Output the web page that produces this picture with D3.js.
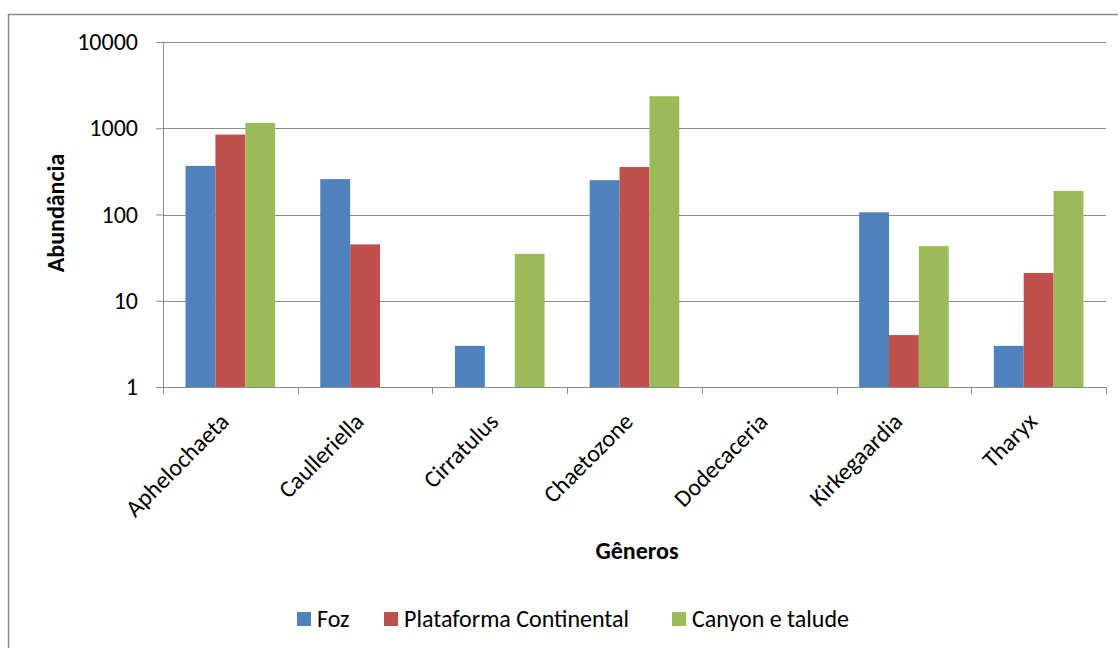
<!DOCTYPE html>
<html>
<head>
<meta charset="utf-8">
<script src="https://cdn.jsdelivr.net/npm/d3@7"></script>
<style>
  body { margin: 0; background: #fff; }
  svg text { font-family: Carlito, Calibri, Lato, sans-serif; fill: #000; }
</style>
</head>
<body>
<svg width="1118" height="648"></svg>
<script>
const svg = d3.select('svg');

// dados
const generos = ['Aphelochaeta', 'Caulleriella', 'Cirratulus', 'Chaetozone', 'Dodecaceria', 'Kirkegaardia', 'Tharyx'];
const series = ['Foz', 'Plataforma Continental', 'Canyon e talude'];
const foz = [366, 257, 3, 250, null, 106, 3];
const plataforma = [845, 45, null, 355, null, 4, 21];
const canyon = [1155, null, 35, 2350, null, 43, 188];
const yTicks = [1, 10, 100, 1000, 10000];
const colors = ['#4f81bd', '#c0504d', '#9bbb59'];

const values = [foz, plataforma, canyon];

const margin = {top: 42, left: 163, right: 12, bottom: 261};
const innerWidth = 1106 - margin.left;
const innerHeight = 387 - margin.top;

// borda externa
svg.append('rect')
    .attr('x', 8.5).attr('y', 14.5)
    .attr('width', 1200).attr('height', 700)
    .attr('fill', 'none')
    .attr('stroke', '#8c8c8c')
    .attr('stroke-width', 1.5);

const g = svg.append('g')
    .attr('transform', `translate(${margin.left}, ${margin.top})`);

const xScale = d3.scaleBand()
    .domain(generos)
    .range([0, innerWidth]);

const xInner = d3.scaleBand()
    .domain(series)
    .range([0, xScale.bandwidth()])
    .paddingInner(0)
    .paddingOuter(0.755);

const yScale = d3.scaleLog()
    .domain([1, 10000])
    .range([innerHeight, 0]);

// grade
g.selectAll('.grid').data(yTicks.slice(1))
    .enter().append('line')
    .attr('class', 'grid')
    .attr('x1', 0).attr('x2', innerWidth)
    .attr('y1', d => Math.round(yScale(d)) + 0.5)
    .attr('y2', d => Math.round(yScale(d)) + 0.5)
    .attr('stroke', '#8c8c8c');

// barras
series.forEach((s, i) => {
    g.append('g').selectAll('rect')
        .data(generos.map((gen, j) => ({gen, v: values[i][j]})).filter(d => d.v))
        .enter().append('rect')
        .attr('x', d => xScale(d.gen) + xInner(s))
        .attr('width', xInner.bandwidth())
        .attr('y', d => yScale(d.v))
        .attr('height', d => innerHeight - yScale(d.v))
        .attr('fill', colors[i]);
});

// eixo y
const yAxis = d3.axisLeft(yScale)
    .tickValues(yTicks)
    .tickFormat(d3.format('d'))
    .tickSize(7)
    .tickPadding(6);

const yAxisG = g.append('g').call(yAxis);
yAxisG.select('.domain').attr('stroke', '#8c8c8c').attr('d', `M0.5,0V${innerHeight}`);
yAxisG.selectAll('.tick line').attr('stroke', '#8c8c8c');
yAxisG.selectAll('.tick text').attr('font-size', 24).attr('dx', -12);

// eixo x
const xAxisG = g.append('g')
    .attr('transform', `translate(0, ${innerHeight})`);
xAxisG.append('line')
    .attr('x1', -7).attr('x2', innerWidth)
    .attr('y1', 0.5).attr('y2', 0.5)
    .attr('stroke', '#8c8c8c');
xAxisG.selectAll('.xtick').data(generos.concat(['end']))
    .enter().append('line')
    .attr('x1', (d, i) => Math.round(i * xScale.step()) + 0.5)
    .attr('x2', (d, i) => Math.round(i * xScale.step()) + 0.5)
    .attr('y1', 0).attr('y2', 7)
    .attr('stroke', '#8c8c8c');

xAxisG.selectAll('.xlabel').data(generos)
    .enter().append('text')
    .attr('transform', d => `translate(${xScale(d) + xScale.bandwidth() / 2}, 36) rotate(-45)`)
    .attr('text-anchor', 'end')
    .attr('font-size', 24)
    .text(d => d);

// títulos dos eixos
svg.append('text')
    .attr('transform', 'translate(64, 213) rotate(-90)')
    .attr('text-anchor', 'middle')
    .attr('font-size', 24)
    .attr('font-weight', 'bold')
    .text('Abundância');

svg.append('text')
    .attr('x', 637).attr('y', 559)
    .attr('text-anchor', 'middle')
    .attr('font-size', 24)
    .attr('font-weight', 'bold')
    .text('Gêneros');

// legenda
const legendX = [297, 384, 672];
const legend = svg.append('g');
series.forEach((s, i) => {
    legend.append('rect')
        .attr('x', legendX[i]).attr('y', 612)
        .attr('width', 14).attr('height', 14)
        .attr('fill', colors[i]);
    legend.append('text')
        .attr('x', legendX[i] + 20).attr('y', 627)
        .attr('font-size', 24)
        .text(s);
});
</script>
</body>
</html>
